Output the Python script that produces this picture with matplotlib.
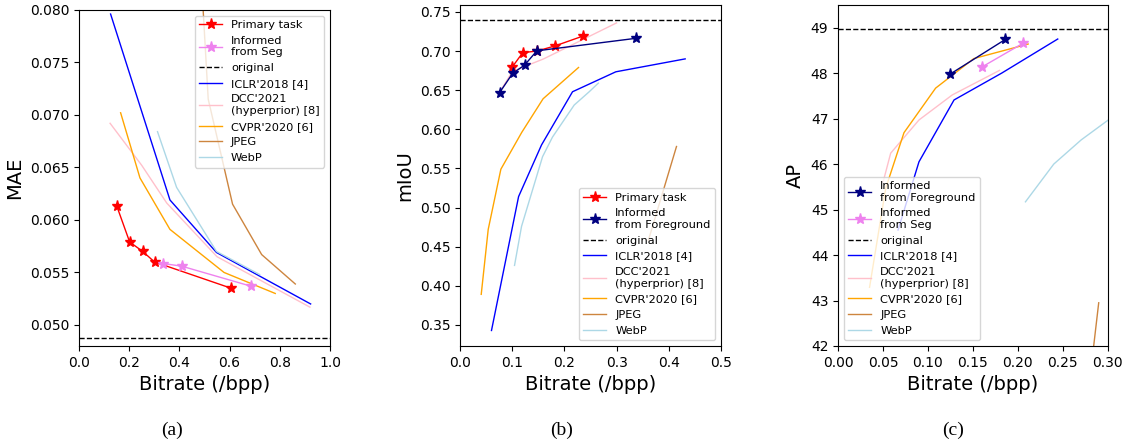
import matplotlib
matplotlib.use("Agg")
import matplotlib.pyplot as plt

# ---- (a) MAE ----
a_primary_x = [0.151, 0.202, 0.254, 0.301, 0.606]
a_primary_y = [0.0613, 0.0579, 0.0570, 0.0560, 0.0535]
a_seg_x = [0.336, 0.409, 0.684]
a_seg_y = [0.05585, 0.0556, 0.0537]
a_original = 0.0488
a_iclr_x = [0.126, 0.3625, 0.548, 0.923]
a_iclr_y = [0.0796, 0.0619, 0.0569, 0.0520]
a_dcc_x = [0.124, 0.25, 0.35, 0.55, 0.92]
a_dcc_y = [0.0692, 0.0652, 0.0616, 0.0565, 0.0517]
a_cvpr_x = [0.166, 0.243, 0.3625, 0.578, 0.782]
a_cvpr_y = [0.0702, 0.0640, 0.0591, 0.0550, 0.0530]
a_jpeg_x = [0.49, 0.515, 0.612, 0.728, 0.862]
a_jpeg_y = [0.0820, 0.0715, 0.0615, 0.0567, 0.0539]
a_webp_x = [0.313, 0.389, 0.548, 0.72]
a_webp_y = [0.0684, 0.0631, 0.0570, 0.0548]

# ---- (b) mIoU ----
b_primary_x = [0.0991, 0.120, 0.147, 0.182, 0.2347]
b_primary_y = [0.679, 0.698, 0.700, 0.7066, 0.719]
b_fg_x = [0.0754, 0.1004, 0.1234, 0.147, 0.3382]
b_fg_y = [0.6467, 0.6714, 0.682, 0.7003, 0.7164]
b_original = 0.7394
b_iclr_x = [0.060, 0.112, 0.156, 0.2155, 0.2986, 0.4316]
b_iclr_y = [0.3428, 0.514, 0.580, 0.648, 0.6735, 0.690]
b_dcc_x = [0.075, 0.10, 0.16, 0.30]
b_dcc_y = [0.6467, 0.674, 0.690, 0.736]
b_cvpr_x = [0.0403, 0.0537, 0.078, 0.118, 0.159, 0.227]
b_cvpr_y = [0.389, 0.472, 0.549, 0.596, 0.639, 0.679]
b_jpeg_x = [0.361, 0.415]
b_jpeg_y = [0.458, 0.578]
b_webp_x = [0.1042, 0.1177, 0.158, 0.177, 0.2187, 0.2475, 0.265]
b_webp_y = [0.426, 0.476, 0.565, 0.590, 0.631, 0.648, 0.659]

# ---- (c) AP ----
c_fg_x = [0.124, 0.186]
c_fg_y = [47.97, 48.74]
c_seg_x = [0.1596, 0.206]
c_seg_y = [48.13, 48.66]
c_original = 48.97
c_iclr_x = [0.0667, 0.09, 0.129, 0.182, 0.2444]
c_iclr_y = [44.55, 46.05, 47.41, 48.0, 48.75]
c_dcc_x = [0.05, 0.0585, 0.09, 0.127, 0.1796]
c_dcc_y = [45.6, 46.24, 46.97, 47.52, 48.06]
c_cvpr_x = [0.035, 0.053, 0.0733, 0.1085, 0.151, 0.2115]
c_cvpr_y = [43.29, 45.47, 46.69, 47.67, 48.32, 48.64]
c_jpeg_x = [0.28, 0.2844, 0.29]
c_jpeg_y = [41.5, 42.0, 42.95]
c_webp_x = [0.2085, 0.24, 0.2704, 0.30, 0.33]
c_webp_y = [45.17, 46.0, 46.53, 46.96, 47.4]

lbl_iclr = "ICLR'2018 [4]"
lbl_dcc = "DCC'2021\n(hyperprior) [8]"
lbl_cvpr = "CVPR'2020 [6]"

fig = plt.figure(figsize=(11.28, 4.47), dpi=100)
ax1 = fig.add_axes([0.070, 0.226, 0.2225, 0.752])
ax2 = fig.add_axes([0.408, 0.226, 0.231, 0.763])
ax3 = fig.add_axes([0.743, 0.226, 0.239, 0.763])

lw = 1.0
ms = 8


def baselines(ax, iclr, dcc, cvpr, jpeg, webp):
    ax.plot(*iclr, color='blue', lw=lw, label=lbl_iclr)
    ax.plot(*dcc, color='pink', lw=lw, label=lbl_dcc)
    ax.plot(*cvpr, color='orange', lw=lw, label=lbl_cvpr)
    ax.plot(*jpeg, color='peru', lw=lw, label='JPEG')
    ax.plot(*webp, color='lightblue', lw=lw, label='WebP')


# (a)
baselines(ax1, (a_iclr_x, a_iclr_y), (a_dcc_x, a_dcc_y), (a_cvpr_x, a_cvpr_y),
          (a_jpeg_x, a_jpeg_y), (a_webp_x, a_webp_y))
ax1.plot(a_primary_x, a_primary_y, color='red', marker='*', ms=ms, lw=lw, label='Primary task')
ax1.plot(a_seg_x, a_seg_y, color='violet', marker='*', ms=ms, lw=lw, label='Informed\nfrom Seg')
ax1.axhline(a_original, color='k', ls='--', lw=lw, label='original')
ax1.set_xlim(0, 1.0)
ax1.set_ylim(0.048, 0.080)
ax1.set_ylabel('MAE', fontsize=14)
order_a = ['Primary task', 'Informed\nfrom Seg', 'original', lbl_iclr, lbl_dcc, lbl_cvpr, 'JPEG', 'WebP']

# (b)
baselines(ax2, (b_iclr_x, b_iclr_y), (b_dcc_x, b_dcc_y), (b_cvpr_x, b_cvpr_y),
          (b_jpeg_x, b_jpeg_y), (b_webp_x, b_webp_y))
ax2.plot(b_primary_x, b_primary_y, color='red', marker='*', ms=ms, lw=lw, label='Primary task')
ax2.plot(b_fg_x, b_fg_y, color='navy', marker='*', ms=ms, lw=lw, label='Informed\nfrom Foreground')
ax2.axhline(b_original, color='k', ls='--', lw=lw, label='original')
ax2.set_xlim(0, 0.5)
ax2.set_ylim(0.323, 0.759)
ax2.set_ylabel('mIoU', fontsize=14)
order_b = ['Primary task', 'Informed\nfrom Foreground', 'original', lbl_iclr, lbl_dcc, lbl_cvpr, 'JPEG', 'WebP']

# (c)
baselines(ax3, (c_iclr_x, c_iclr_y), (c_dcc_x, c_dcc_y), (c_cvpr_x, c_cvpr_y),
          (c_jpeg_x, c_jpeg_y), (c_webp_x, c_webp_y))
ax3.plot(c_fg_x, c_fg_y, color='navy', marker='*', ms=ms, lw=lw, label='Informed\nfrom Foreground')
ax3.plot(c_seg_x, c_seg_y, color='violet', marker='*', ms=ms, lw=lw, label='Informed\nfrom Seg')
ax3.axhline(c_original, color='k', ls='--', lw=lw, label='original')
ax3.set_xlim(0, 0.3)
ax3.set_ylim(42, 49.5)
ax3.set_ylabel('AP', fontsize=14)
order_c = ['Informed\nfrom Foreground', 'Informed\nfrom Seg', 'original', lbl_iclr, lbl_dcc, lbl_cvpr, 'JPEG', 'WebP']

for ax, order, loc in [(ax1, order_a, 'upper right'), (ax2, order_b, 'lower right'),
                       (ax3, order_c, 'lower left')]:
    h, l = ax.get_legend_handles_labels()
    d = dict(zip(l, h))
    ax.legend([d[k] for k in order], order, loc=loc, fontsize=8.2)
    ax.set_xlabel('Bitrate (/bpp)', fontsize=14)
    ax.tick_params(labelsize=10)

fig.text(172 / 1128, 1 - 430 / 447, '(a)', ha='center', va='center', fontsize=14, family='Liberation Serif')
fig.text(562 / 1128, 1 - 430 / 447, '(b)', ha='center', va='center', fontsize=14, family='Liberation Serif')
fig.text(953 / 1128, 1 - 430 / 447, '(c)', ha='center', va='center', fontsize=14, family='Liberation Serif')

fig.savefig('out.png', dpi=100)
